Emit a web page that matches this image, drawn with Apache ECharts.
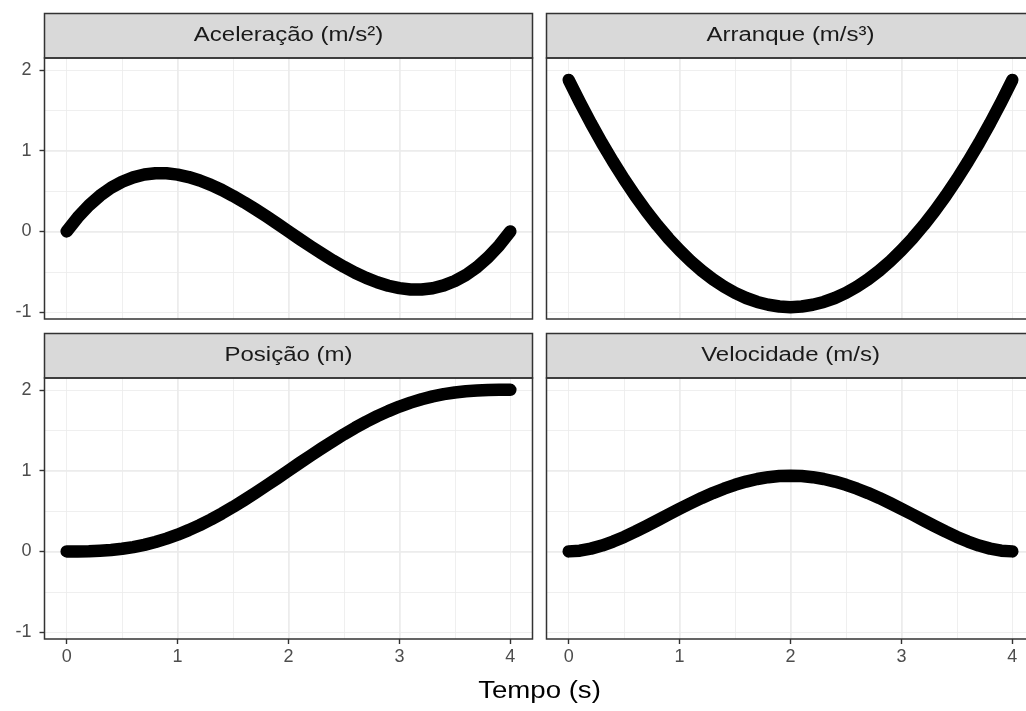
<!DOCTYPE html>
<html><head><meta charset="utf-8">
<script src="https://cdn.jsdelivr.net/npm/echarts@6/dist/echarts.min.js"></script>
<style>html,body{margin:0;padding:0;background:#fff}#c{width:1026px;height:711px}</style>
</head><body><div id="c"></div>
<script>
const tempo = [0,0.1,0.2,0.3,0.4,0.5,0.6,0.7,0.8,0.9,1,1.1,1.2,1.3,1.4,1.5,1.6,1.7,1.8,1.9,2,2.1,2.2,2.3,2.4,2.5,2.6,2.7,2.8,2.9,3,3.1,3.2,3.3,3.4,3.5,3.6,3.7,3.8,3.9,4];
const aceleracao = [0,0.174,0.321,0.442,0.540,0.615,0.669,0.704,0.720,0.719,0.703,0.673,0.630,0.576,0.512,0.439,0.360,0.275,0.186,0.094,0,-0.094,-0.186,-0.275,-0.360,-0.439,-0.512,-0.576,-0.630,-0.673,-0.703,-0.719,-0.720,-0.704,-0.669,-0.615,-0.540,-0.442,-0.321,-0.174,0];
const arranque = [1.875,1.601,1.341,1.095,0.863,0.645,0.441,0.251,0.075,-0.087,-0.234,-0.368,-0.488,-0.593,-0.684,-0.762,-0.825,-0.874,-0.909,-0.930,-0.938,-0.930,-0.909,-0.874,-0.825,-0.762,-0.684,-0.593,-0.488,-0.368,-0.234,-0.087,0.075,0.251,0.441,0.645,0.863,1.095,1.341,1.601,1.875];
const posicao = [0,0.000,0.002,0.008,0.017,0.032,0.053,0.081,0.116,0.158,0.207,0.263,0.326,0.395,0.470,0.550,0.635,0.723,0.814,0.906,1.000,1.094,1.186,1.277,1.365,1.450,1.530,1.605,1.674,1.737,1.793,1.842,1.884,1.919,1.947,1.968,1.983,1.992,1.998,2.000,2.000];
const velocidade = [0,0.009,0.034,0.072,0.122,0.179,0.244,0.313,0.384,0.456,0.527,0.596,0.662,0.722,0.776,0.824,0.864,0.896,0.919,0.933,0.938,0.933,0.919,0.896,0.864,0.824,0.776,0.722,0.662,0.596,0.527,0.456,0.384,0.313,0.244,0.179,0.122,0.072,0.034,0.009,0];
const painelTitulos = ['Aceleração (m/s²)','Arranque (m/s³)','Posição (m)','Velocidade (m/s)'];
const xTicks = [0,1,2,3,4];
const yTicks = [-1,0,1,2];
const tituloX = 'Tempo (s)';

const valores = [aceleracao, arranque, posicao, velocidade];

// layout
const colLeft = [44.5, 546.5], panelW = 488;
const rowTop = [58, 378], panelH = 261;
const stripH = 44.5;
const FONT = '"Liberation Sans", Arial, sans-serif';

const all = [].concat(...valores);
const yLo = Math.min(...all), yHi = Math.max(...all), yPad = 0.05 * (yHi - yLo);
const xLo = Math.min(...tempo), xHi = Math.max(...tempo), xPad = 0.05 * (xHi - xLo);

const grid = [], xAxis = [], yAxis = [], series = [], graphic = [];
const fmtInt = v => { const n = Number(v); return Math.abs(n - Math.round(n)) < 1e-9 ? String(Math.round(n)) : ''; };

for (let i = 0; i < 4; i++) {
  const row = Math.floor(i / 2), col = i % 2;
  const left = colLeft[col], top = rowTop[row];
  grid.push({ left: left, top: top, width: panelW, height: panelH, containLabel: false, outerBoundsMode: 'none', show: false });
  const showX = row === 1, showY = col === 0;
  // minor axes
  xAxis.push({
    type: 'value', gridIndex: i, position: 'bottom', min: xLo - xPad, max: xHi + xPad,
    minInterval: 0.5, maxInterval: 0.5,
    axisLine: { show: false, onZero: false }, axisTick: { show: false }, axisLabel: { show: false },
    splitLine: { show: true, showMinLine: false, showMaxLine: false, lineStyle: { color: '#EBEBEB', width: 0.8 } }
  });
  yAxis.push({
    type: 'value', gridIndex: i, position: 'left', min: yLo - yPad, max: yHi + yPad,
    minInterval: 0.5, maxInterval: 0.5,
    axisLine: { show: false, onZero: false }, axisTick: { show: false }, axisLabel: { show: false },
    splitLine: { show: true, showMinLine: false, showMaxLine: false, lineStyle: { color: '#EBEBEB', width: 0.8 } }
  });
  // major axes
  xAxis.push({
    type: 'value', gridIndex: i, position: 'bottom', min: xLo - xPad, max: xHi + xPad,
    minInterval: 1, maxInterval: 1,
    axisLine: { show: false, onZero: false },
    axisTick: { show: showX, customValues: xTicks, length: 5, lineStyle: { color: '#333333', width: 1.4 } },
    axisLabel: { show: showX, customValues: xTicks, formatter: fmtInt, margin: 9, color: '#4D4D4D', fontSize: 18, fontFamily: FONT },
    splitLine: { show: true, showMinLine: false, showMaxLine: false, lineStyle: { color: '#EBEBEB', width: 1.5 } }
  });
  yAxis.push({
    type: 'value', gridIndex: i, position: 'left', min: yLo - yPad, max: yHi + yPad,
    minInterval: 1, maxInterval: 1,
    axisLine: { show: false, onZero: false },
    axisTick: { show: showY, customValues: yTicks, length: 5, lineStyle: { color: '#333333', width: 1.4 } },
    axisLabel: { show: showY, customValues: yTicks, formatter: fmtInt, margin: 13, color: '#4D4D4D', fontSize: 18, fontFamily: FONT },
    splitLine: { show: true, showMinLine: false, showMaxLine: false, lineStyle: { color: '#EBEBEB', width: 1.5 } }
  });
  series.push({
    type: 'line', xAxisIndex: 2 * i + 1, yAxisIndex: 2 * i + 1,
    data: tempo.map((t, k) => [t, valores[i][k]]),
    symbol: 'none', smooth: false, animation: false,
    lineStyle: { color: '#000000', width: 12.5, cap: 'round', join: 'round' },
    z: 5
  });
  // strip
  graphic.push({
    type: 'rect', silent: true, z: 50,
    shape: { x: left, y: top - stripH, width: panelW, height: stripH },
    style: { fill: '#D9D9D9', stroke: '#333333', lineWidth: 1.5 }
  });
  graphic.push({
    type: 'text', silent: true, z: 60,
    x: left + panelW / 2, y: top - stripH / 2, scaleX: 1.2,
    style: { text: painelTitulos[i], x: 0, y: 0, align: 'center', verticalAlign: 'middle',
             fontSize: 20, fontFamily: FONT, fill: '#1A1A1A' }
  });
  // panel border
  graphic.push({
    type: 'rect', silent: true, z: 100,
    shape: { x: left, y: top, width: panelW, height: panelH },
    style: { fill: 'rgba(0,0,0,0)', stroke: '#333333', lineWidth: 1.5 }
  });
}
graphic.push({
  type: 'text', silent: true, z: 60,
  x: (colLeft[0] + colLeft[1] + panelW) / 2, y: 692, scaleX: 1.2,
  style: { text: tituloX, x: 0, y: 0, align: 'center', verticalAlign: 'middle',
           fontSize: 23, fontFamily: FONT, fill: '#000000' }
});

const chart = echarts.init(document.getElementById('c'), null, { renderer: 'canvas' });
chart.setOption({
  backgroundColor: '#ffffff',
  animation: false,
  grid, xAxis, yAxis, series, graphic
});
</script>
</body></html>
